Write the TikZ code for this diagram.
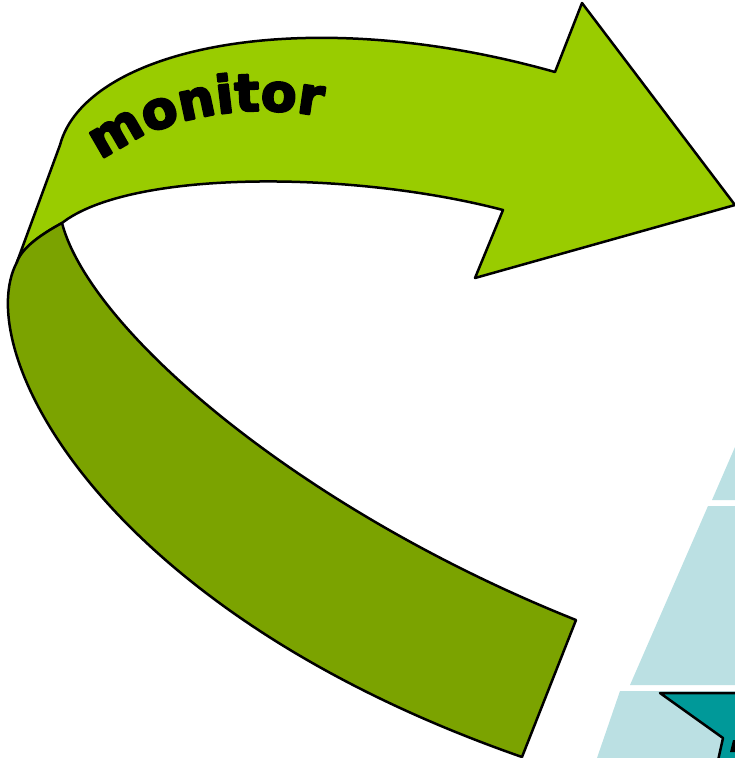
\documentclass[tikz,border=0pt]{standalone}
\usepackage{fontspec}
\usetikzlibrary{decorations.text}
\newfontfamily\bandfont[BoldFeatures={FakeBold=4}]{DejaVu Sans}

\definecolor{leafgreen}{HTML}{99CC00}
\definecolor{olivegreen}{HTML}{7BA300}
\definecolor{paleteal}{HTML}{BBE0E3}
\definecolor{deepteal}{HTML}{009999}

\begin{document}
\begin{tikzpicture}[x=1pt, y=-1pt, line join=round]

    \useasboundingbox (0,0) rectangle (735,758);
    \clip (0,0) rectangle (735,758);

    % pale blocks at the bottom right
    \fill[paleteal] (712,500) -- (735,447) -- (735,500) -- cycle;
    \fill[paleteal] (708,506) -- (735,506) -- (735,685) -- (630,685) -- cycle;
    \fill[paleteal] (620,691) -- (735,691) -- (735,758) -- (597,758) -- cycle;
    \filldraw[deepteal, draw=black, line width=2.5pt]
        (660,693) -- (740,693) -- (740,765) -- (717,765) -- (723,738) -- cycle;
    \fill[black] (733,740) -- (740,740) -- (740,752) -- (730,752) -- cycle;

    % upper band with the arrow head
    \filldraw[leafgreen, draw=black, line width=2.5pt]
        (17,262) -- (60,145) .. controls (85,50) and (300,0) .. (555,72)
        -- (582,3) -- (735,205) -- (475,278) -- (503,210)
        .. controls (350,170) and (130,170) .. (62,223)
        .. controls (40,235) and (22,248) .. (17,262) -- cycle;

    % lower band, in front
    \filldraw[olivegreen, draw=black, line width=2.5pt]
        (17,262) .. controls (-30,350) and (100,610) .. (522,757)
        -- (576,620) .. controls (300,510) and (90,330) .. (62,223)
        .. controls (40,235) and (22,248) .. (17,262) -- cycle;

    % label along the band
    \path[decorate, decoration={text along path, text align=center,
        text={|\bandfont\bfseries\fontsize{52}{52}\selectfont|monitor}}]
        (88,172) .. controls (150,116) and (250,98) .. (338,120);

\end{tikzpicture}
\end{document}
